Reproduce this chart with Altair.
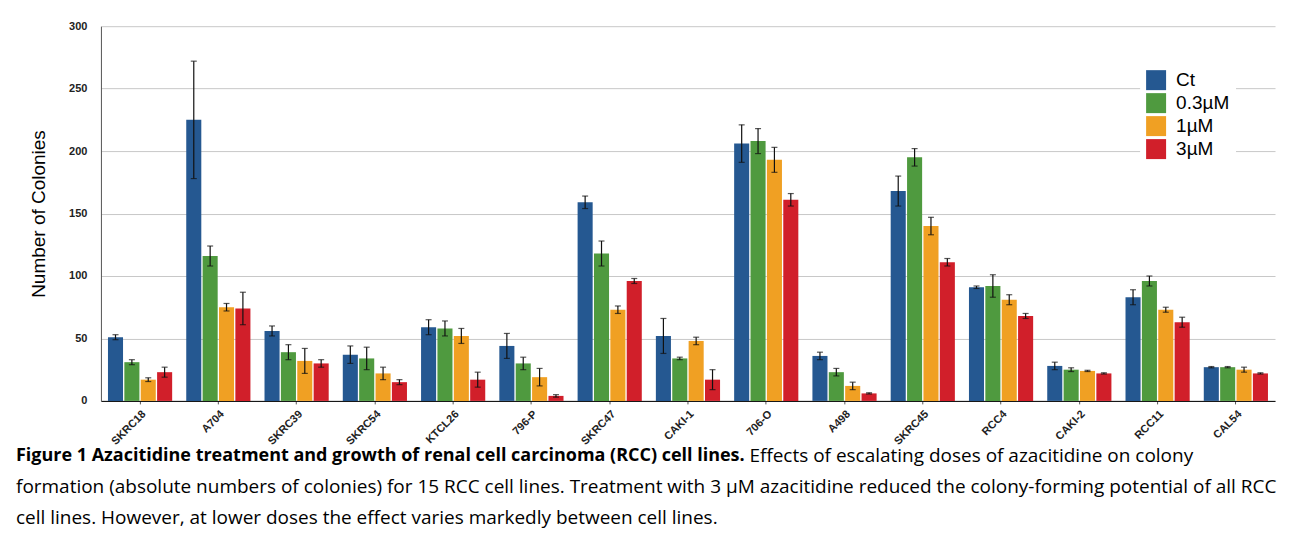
import pandas as pd
import altair as alt

cell_lines = ["SKRC18", "A704", "SKRC39", "SKRC54", "KTCL26", "796-P", "SKRC47", "CAKI-1",
              "706-O", "A498", "SKRC45", "RCC4", "CAKI-2", "RCC11", "CAL54"]
doses = ["Ct", "0.3µM", "1µM", "3µM"]
colors = ["#255891", "#4f9a3f", "#f0a023", "#d11f2a"]

ct = [51, 225, 56, 37, 59, 44, 159, 52, 206, 36, 168, 91, 28, 83, 27]
d03 = [31, 116, 39, 34, 58, 30, 118, 34, 208, 23, 195, 92, 25, 96, 27]
d1 = [17, 75, 32, 22, 52, 19, 73, 48, 193, 12, 140, 81, 24, 73, 25]
d3 = [23, 74, 30, 15, 17, 4, 96, 17, 161, 6, 111, 68, 22, 63, 22]

ct_err = [2, 47, 4, 7, 6, 10, 5, 14, 15, 3, 12, 1, 3, 6, 0.5]
d03_err = [2, 8, 6, 9, 6, 5, 10, 1, 10, 3, 7, 9, 1.5, 4, 0.5]
d1_err = [1.5, 3, 10, 5, 6, 7, 3, 3, 10, 3, 7, 4, 0.5, 2, 2]
d3_err = [4, 13, 3, 2, 6, 1, 2, 8, 5, 0.5, 3, 2, 0.5, 4, 0.5]

rows = []
for dose, vals, errs in zip(doses, [ct, d03, d1, d3], [ct_err, d03_err, d1_err, d3_err]):
    for line, v, e in zip(cell_lines, vals, errs):
        rows.append({"line": line, "dose": dose, "value": v, "lo": v - e, "hi": v + e})
df = pd.DataFrame(rows)

x = alt.X("line:N", sort=cell_lines, title=None,
          scale=alt.Scale(paddingInner=0.18, paddingOuter=0.09),
          axis=alt.Axis(labelAngle=-45, labelFontWeight="bold", labelFontSize=11,
                        labelColor="#222", domainColor="#000", ticks=True, tickColor="#555",
                        tickSize=3, labelPadding=4, grid=False))
xo = alt.XOffset("dose:N", sort=doses, scale=alt.Scale(paddingInner=0.08))
color = alt.Color("dose:N", sort=doses, scale=alt.Scale(domain=doses, range=colors),
                  legend=alt.Legend(title=None, orient="none", legendX=1040, legendY=38,
                                    symbolType="square", symbolSize=400, labelFontSize=19,
                                    labelFont="Liberation Sans", rowPadding=3,
                                    symbolStrokeWidth=0, fillColor="white", padding=6,
                                    labelOffset=10))

base = alt.Chart(df)
bars = base.mark_bar().encode(
    x=x, xOffset=xo, color=color,
    y=alt.Y("value:Q", title="Number of Colonies", scale=alt.Scale(domain=[0, 300]),
            axis=alt.Axis(values=[0, 50, 100, 150, 200, 250, 300], labelFontWeight="bold",
                          labelFontSize=11, labelColor="#222", titleFontSize=19,
                          titleFontWeight="normal", titleFont="Liberation Sans",
                          titleColor="#000", titlePadding=20, gridColor="#c8c8c8",
                          domainColor="#555", ticks=False, labelPadding=14, grid=True)))
err = base.mark_rule(color="#111", strokeWidth=1.2).encode(
    x=x, xOffset=xo, y="lo:Q", y2="hi:Q")
cap_hi = base.mark_tick(color="#111", size=6, thickness=1.2, orient="horizontal").encode(
    x=x, xOffset=xo, y="hi:Q")
cap_lo = base.mark_tick(color="#111", size=6, thickness=1.2, orient="horizontal").encode(
    x=x, xOffset=xo, y="lo:Q")

plot = (bars + err + cap_hi + cap_lo).properties(width=1175, height=375)

caption_lines = [
    "formation (absolute numbers of colonies) for 15 RCC cell lines. Treatment with 3 µM azacitidine reduced the colony-forming potential of all RCC",
    "cell lines. However, at lower doses the effect varies markedly between cell lines.",
]
bold_part = "Figure 1 Azacitidine treatment and growth of renal cell carcinoma (RCC) cell lines."
rest_part = "Effects of escalating doses of azacitidine on colony"

cap_font = "Open Sans"


def cap_text(t, xpos, ypos, size=19, weight="normal"):
    return alt.Chart(pd.DataFrame({"t": [t]})).mark_text(
        align="left", baseline="top", fontSize=size, fontWeight=weight, font=cap_font,
        color="#000"
    ).encode(text="t:N", x=alt.value(xpos), y=alt.value(ypos))


caption = (cap_text(bold_part, -85, -4, 18, "bold") + cap_text(rest_part, 649, -4)
           + cap_text(caption_lines[0], -85, 27) + cap_text(caption_lines[1], -85, 58)
           ).properties(width=1175, height=80)

chart = alt.vconcat(plot, caption, spacing=0).configure(
    font="Liberation Sans"
).configure_view(stroke=None).properties(
    padding={"left": 8, "top": 12, "right": 4, "bottom": 0})

chart.save("out.html", embed_options={"renderer": "svg", "actions": False})
